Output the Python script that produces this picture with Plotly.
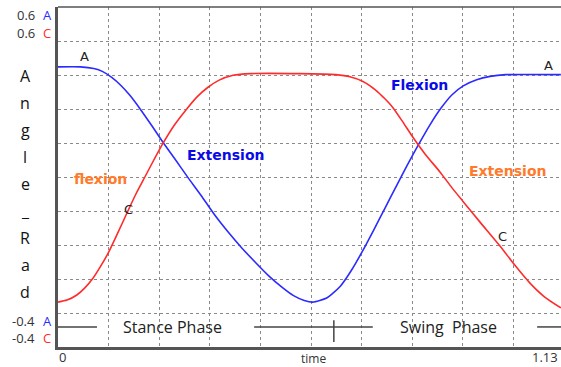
import plotly.graph_objects as go

# ---- data ----
time_A = [0.000, 0.050, 0.080, 0.100, 0.120, 0.140, 0.160, 0.183, 0.210, 0.234, 0.260,
          0.290, 0.320, 0.350, 0.380, 0.410, 0.440, 0.470, 0.500, 0.525, 0.550, 0.569,
          0.600, 0.630, 0.655, 0.680, 0.705, 0.730, 0.755, 0.780, 0.805, 0.830, 0.855,
          0.880, 0.905, 0.935, 0.965, 1.000, 1.123]
angle_A = [0.424, 0.424, 0.419, 0.410, 0.393, 0.370, 0.341, 0.301, 0.250, 0.203, 0.155,
           0.099, 0.045, -0.012, -0.062, -0.108, -0.150, -0.190, -0.224, -0.248, -0.263, -0.268,
           -0.256, -0.222, -0.175, -0.118, -0.056, 0.008, 0.072, 0.135, 0.195, 0.252, 0.302,
           0.342, 0.368, 0.386, 0.396, 0.401, 0.401]

time_C = [0.000, 0.020, 0.042, 0.060, 0.078, 0.095, 0.112, 0.133, 0.154, 0.174, 0.194,
          0.214, 0.234, 0.260, 0.288, 0.310, 0.335, 0.360, 0.391, 0.430, 0.540, 0.620,
          0.652, 0.681, 0.710, 0.730, 0.748, 0.770, 0.793, 0.820, 0.853, 0.880, 0.904,
          0.942, 0.987, 1.020, 1.054, 1.087, 1.123]
angle_C = [-0.268, -0.262, -0.247, -0.226, -0.198, -0.163, -0.124, -0.066, -0.006, 0.050, 0.100,
           0.150, 0.198, 0.253, 0.301, 0.335, 0.364, 0.385, 0.399, 0.404, 0.404, 0.401,
           0.395, 0.381, 0.355, 0.330, 0.304, 0.262, 0.216, 0.167, 0.115, 0.068, 0.029,
           -0.032, -0.103, -0.159, -0.212, -0.253, -0.285]

x_range = [0.0, 1.1233]
x_end_label = "1.13"
y_range = [-0.4, 0.6]
y_tick_top = "0.6"
y_tick_bottom = "-0.4"
title_letters = ["A", "n", "g", "l", "e", "_", "R", "a", "d"]

# phase bar (time units)
phase_y = -0.341
phase_segments = [(0.0, 0.087), (0.438, 0.703), (1.07, 1.13)]
phase_tick_x = 0.616
phase_labels = [("Stance Phase", 0.255), ("Swing  Phase", 0.873)]

BLUE = "#2b2bff"
RED = "#ff2b2b"
BLUE_TXT = "#0a0ae6"
ORANGE = "#ff7a2a"
GRID = "#8a8a8a"
AXIS = "#555555"

fig = go.Figure()
fig.add_trace(go.Scatter(x=time_A, y=angle_A, mode="lines",
                         line=dict(color=BLUE, width=1.6, shape="spline", smoothing=0.6),
                         hoverinfo="skip"))
fig.add_trace(go.Scatter(x=time_C, y=angle_C, mode="lines",
                         line=dict(color=RED, width=1.6, shape="spline", smoothing=0.6),
                         hoverinfo="skip"))

shapes = []
for x0, x1 in phase_segments:
    shapes.append(dict(type="line", xref="x", yref="y", x0=x0, x1=x1, y0=phase_y, y1=phase_y,
                       line=dict(color="#444444", width=1.5)))
shapes.append(dict(type="line", xref="x", yref="y", x0=phase_tick_x, x1=phase_tick_x,
                   y0=phase_y + 0.020, y1=phase_y - 0.044, line=dict(color="#444444", width=1.5)))
# top border
shapes.append(dict(type="line", xref="paper", yref="paper", x0=0, x1=1, y0=1, y1=1,
                   line=dict(color=AXIS, width=1.5)))

ann = []
def txt(x, y, s, color="#222", size=13, family="DejaVu Sans", xref="x", yref="y", xanchor="center", bold=False):
    ann.append(dict(x=x, y=y, xref=xref, yref=yref, text=(f"<b>{s}</b>" if bold else s),
                    showarrow=False, xanchor=xanchor, yanchor="middle",
                    font=dict(color=color, size=size, family=family)))

# curve labels
txt(0.060, 0.454, "A", size=13)
txt(1.095, 0.427, "A", size=13)
txt(0.157, 0.005, "C", size=13)
txt(0.993, -0.075, "C", size=13)
txt(0.375, 0.166, "Extension", color=BLUE_TXT, size=14, bold=True)
txt(0.808, 0.370, "Flexion", color=BLUE_TXT, size=14, bold=True)
txt(0.096, 0.095, "flexion", color=ORANGE, size=14, bold=True)
txt(1.003, 0.118, "Extension", color=ORANGE, size=14, bold=True)

for s, xc in phase_labels:
    txt(xc, phase_y, s, color="#222", size=16, family="Open Sans")

# y tick labels with series letters (paper coords from pixels)
W, H = 561, 367
L, T, B = 58, 7, 20
def px(xp):
    return (xp - L) / (W - L)
def py(yp):
    return (H - B - yp) / (H - T - B)

for ytop, lab, col in [(15, "A", BLUE), (33, "C", RED)]:
    txt(px(37), py(ytop), y_tick_top, color="#333", size=13, family="Open Sans", xref="paper", yref="paper", xanchor="right")
    txt(px(41), py(ytop), lab, color=col, size=13, family="Open Sans", xref="paper", yref="paper", xanchor="left")
for ytop, lab, col in [(321, "A", BLUE), (338, "C", RED)]:
    txt(px(37), py(ytop), y_tick_bottom, color="#333", size=13, family="Open Sans", xref="paper", yref="paper", xanchor="right")
    txt(px(41), py(ytop), lab, color=col, size=13, family="Open Sans", xref="paper", yref="paper", xanchor="left")

# y title, stacked letters
for i, ch in enumerate(title_letters):
    txt(px(25), py(76 + 27 * i), ch, color="#111", size=16, family="Open Sans", xref="paper", yref="paper")

# x labels
txt(px(62), py(357), "0", color="#333", size=13, family="Open Sans", xref="paper", yref="paper")
txt(px(313), py(358), "time", color="#333", size=12, family="Open Sans", xref="paper", yref="paper")
txt(px(560), py(357), x_end_label, color="#333", size=13, family="Open Sans", xref="paper", yref="paper", xanchor="right")

fig.update_layout(
    width=W, height=H,
    margin=dict(l=L, r=0, t=T, b=B, pad=0),
    plot_bgcolor="white", paper_bgcolor="white",
    showlegend=False,
    shapes=shapes, annotations=ann,
    xaxis=dict(range=x_range, tick0=0, dtick=0.113, showticklabels=False, ticks="",
               showgrid=True, gridcolor=GRID, griddash="dot", gridwidth=1,
               zeroline=False, showline=True, linecolor=AXIS, linewidth=2.5, fixedrange=True),
    yaxis=dict(range=y_range, tick0=-0.4, dtick=0.1, showticklabels=False, ticks="",
               showgrid=True, gridcolor=GRID, griddash="dot", gridwidth=1,
               zeroline=False, showline=True, linecolor=AXIS, linewidth=2.5, fixedrange=True),
)

fig.write_html("out.html")
